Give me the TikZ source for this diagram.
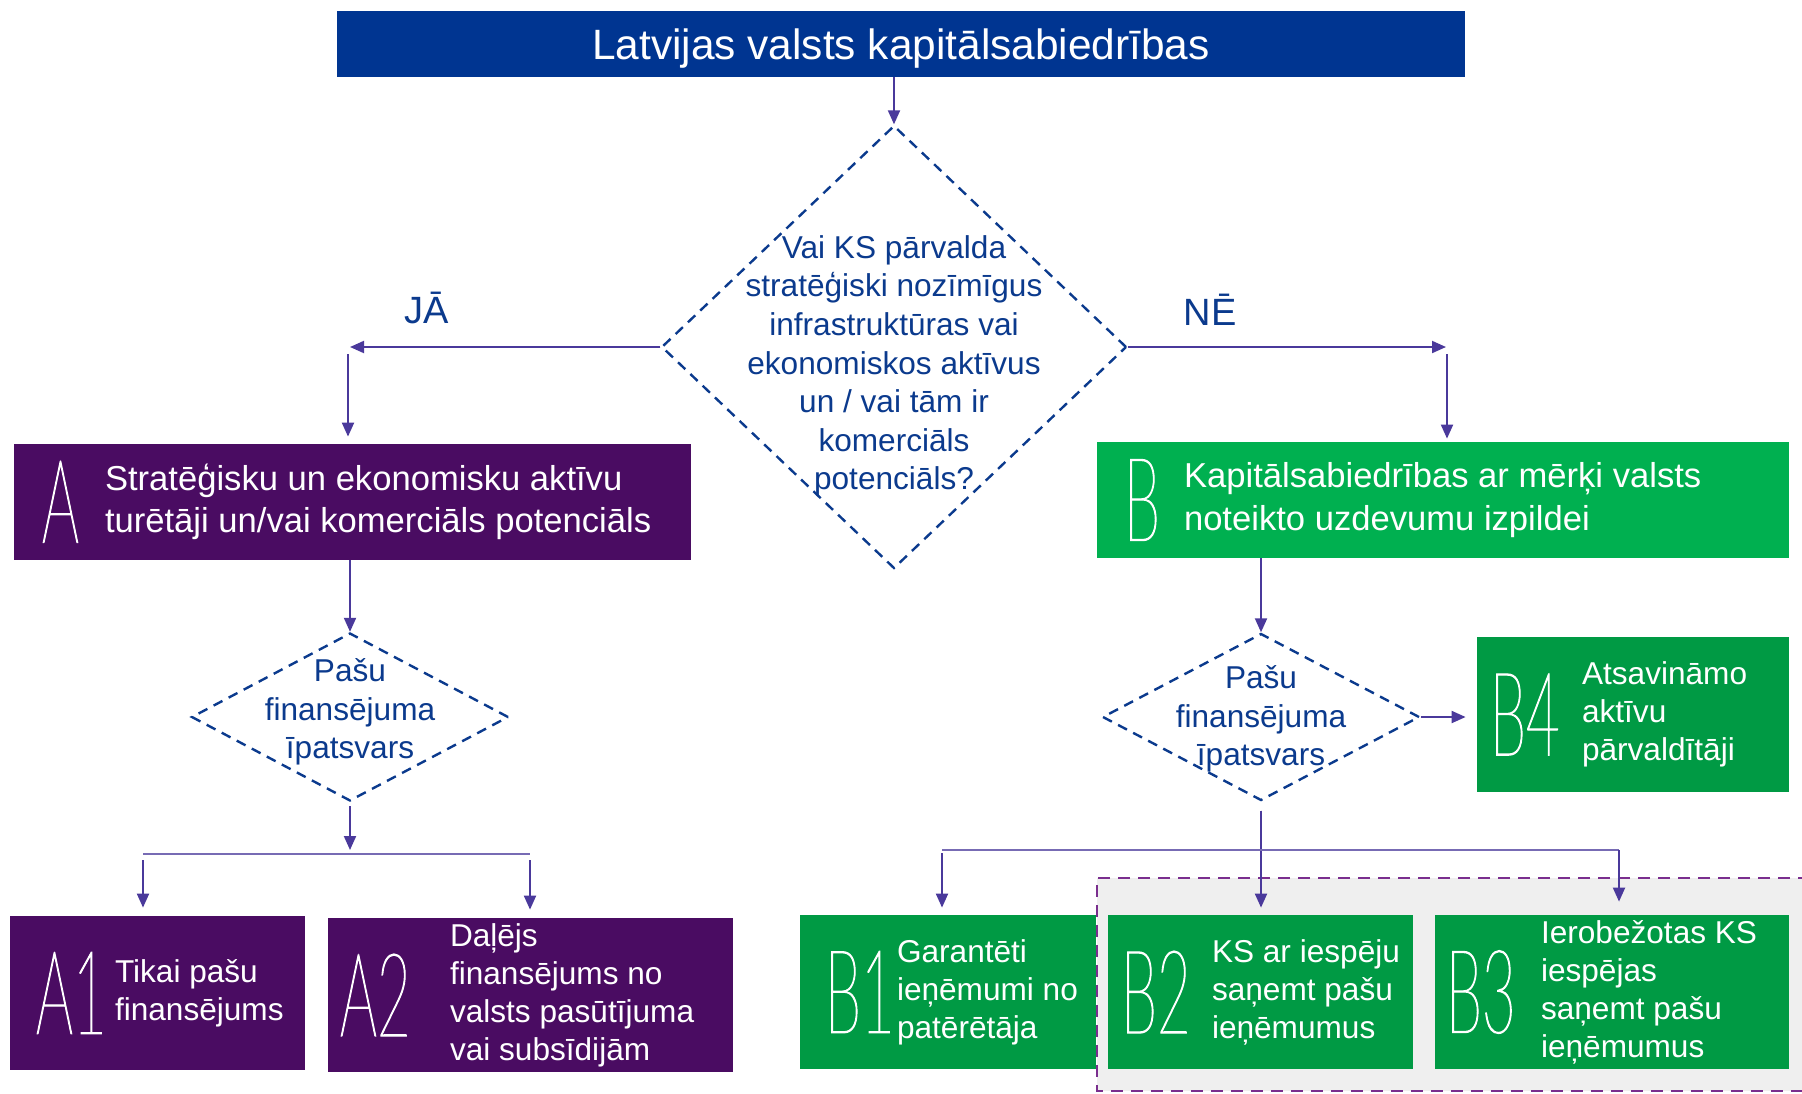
\documentclass[tikz,border=0pt]{standalone}
\usepackage{fontspec}
\setmainfont{Liberation Sans}
\newfontfamily\ltrfont{Lato Thin}[FakeStretch=0.5, FakeBold=1]
\usetikzlibrary{shapes.geometric,arrows.meta,positioning}

\definecolor{titleblue}{HTML}{003591}
\definecolor{qblue}{HTML}{0B3A8D}
\definecolor{arrowc}{HTML}{4A399B}
\definecolor{apurple}{HTML}{4A0C62}
\definecolor{bgreen}{HTML}{00B050}
\definecolor{subgreen}{HTML}{009A44}
\definecolor{zonegray}{HTML}{EFEFEF}
\definecolor{zonepurple}{HTML}{7A2E8E}

\begin{document}
\begin{tikzpicture}[x=0.5pt, y=-0.5pt, >={Triangle[length=7pt,width=6pt]},
    link/.style={->, draw=arrowc, fill=arrowc, line width=1pt},
    branch/.style={draw=arrowc!75, line width=0.6pt},
    decision/.style={diamond, draw=qblue, dash pattern=on 5pt off 3.5pt, line width=1.2pt, inner sep=0pt},
    qtext/.style={text=qblue, align=center, font=\fontsize{15.8}{19.3}\selectfont, inner sep=0pt},
    bigbox/.style={rectangle, inner sep=0pt, minimum height=58pt},
    subbox/.style={rectangle, fill=subgreen, inner sep=0pt, minimum height=77pt},
    bigltr/.style={text=white, font=\ltrfont\fontsize{58}{58}\selectfont, inner sep=0pt, anchor=west},
    boxtext/.style={text=white, align=left, font=\fontsize{17.3}{21.3}\selectfont, inner sep=0pt, anchor=west},
    subtext/.style={text=white, align=left, font=\fontsize{15.8}{19}\selectfont, inner sep=0pt, anchor=west}]

    \useasboundingbox (0,0) rectangle (1802,1093);

    % grey zone around B2 and B3
    \fill[zonegray] (1097,878) rectangle (1830,1091);
    \draw[zonepurple, line width=1.2pt, dash pattern=on 6pt off 4pt] (1830,878) -- (1097,878) -- (1097,1091) -- (1830,1091);

    % top
    \node[fill=titleblue, minimum width=564pt, minimum height=33pt, inner sep=0pt, text depth=0pt, text=white, font=\fontsize{21.2}{24}\selectfont] (title) at (901,44) {Latvijas valsts kapitālsabiedrības};

    \node[decision, minimum width=232.5pt, minimum height=221.5pt] (q) at (894,347) {};
    \node[qtext] (qt) at (894,366) {Vai KS pārvalda\\stratēģiski nozīmīgus\\infrastruktūras vai\\ekonomiskos aktīvus\\un / vai tām ir\\komerciāls\\potenciāls?};

    \node[text=qblue, font=\fontsize{19}{19}\selectfont] (ja) at (427,308) {JĀ};
    \node[text=qblue, font=\fontsize{19}{19}\selectfont] (ne) at (1210,310) {NĒ};

    % A side
    \node[bigbox, fill=apurple, minimum width=338.5pt] (A) at (352.5,502) {};
    \node[bigltr] (Altr) at ([xshift=14pt]A.west) {A};
    \node[boxtext] (Atxt) at ([xshift=45.5pt]A.west) {Stratēģisku un ekonomisku aktīvu\\turētāji un/vai komerciāls potenciāls};

    \node[decision, minimum width=158.5pt, minimum height=84pt] (ld) at (350,717) {};
    \node[qtext] (ldt) at (350,712) {Pašu\\finansējuma\\īpatsvars};

    \node[bigbox, fill=apurple, minimum width=147.5pt, minimum height=77pt] (A1) at (157.5,993) {};
    \node[bigltr] (A1ltr) at ([xshift=13pt]A1.west) {A1};
    \node[subtext] (A1txt) at ([xshift=52.5pt]A1.west) {Tikai pašu\\finansējums};

    \node[bigbox, fill=apurple, minimum width=202.5pt, minimum height=77pt] (A2) at (530.5,995) {};
    \node[bigltr] (A2ltr) at ([xshift=6pt]A2.west) {A2};
    \node[subtext] (A2txt) at ([xshift=61pt]A2.west) {Daļējs\\finansējums no\\valsts pasūtījuma\\vai subsīdijām};

    % B side
    \node[bigbox, fill=bgreen, minimum width=346pt] (B) at (1443,500) {};
    \node[bigltr] (Bltr) at ([xshift=13.5pt]B.west) {B};
    \node[boxtext] (Btxt) at ([xshift=43.5pt]B.west) {Kapitālsabiedrības ar mērķi valsts\\noteikto uzdevumu izpildei};

    \node[decision, minimum width=158.5pt, minimum height=83.5pt] (rd) at (1261,717) {};
    \node[qtext] (rdt) at (1261,719) {Pašu\\finansējuma\\īpatsvars};

    \node[subbox, minimum width=156pt, minimum height=77.5pt] (B4) at (1633,714.5) {};
    \node[bigltr] (B4ltr) at ([xshift=6.5pt]B4.west) {B4};
    \node[subtext] (B4txt) at ([xshift=52.5pt]B4.west) {Atsavināmo\\aktīvu\\pārvaldītāji};

    \node[subbox, minimum width=148pt] (B1) at (948,992) {};
    \node[bigltr] (B1ltr) at ([xshift=12.5pt]B1.west) {B1};
    \node[subtext] (B1txt) at ([xshift=48.5pt]B1.west) {Garantēti\\ieņēmumi no\\patērētāja};

    \node[subbox, minimum width=152.5pt] (B2) at (1260.5,992) {};
    \node[bigltr] (B2ltr) at ([xshift=6.5pt]B2.west) {B2};
    \node[subtext] (B2txt) at ([xshift=52pt]B2.west) {KS ar iespēju\\saņemt pašu\\ieņēmumus};

    \node[subbox, minimum width=177pt] (B3) at (1612,992) {};
    \node[bigltr] (B3ltr) at ([xshift=5.5pt]B3.west) {B3};
    \node[subtext] (B3txt) at ([xshift=53pt]B3.west) {Ierobežotas KS\\iespējas\\saņemt pašu\\ieņēmumus};

    % connectors
    \coordinate (jaend) at (350,347);
    \coordinate (jadown) at (348,354);
    \coordinate (neend) at (1446,347);
    \coordinate (nedown) at (1447,354);
    \coordinate (lbar) at (350,854);
    \coordinate (lbarL) at (143,854);
    \coordinate (lbarR) at (530,854);
    \coordinate (rbarL) at (942,850);
    \coordinate (rbarR) at (1619,850);

    \draw[link] (title.south -| q.north) -- (q.north);
    \draw[link] (q.west) -- (jaend);
    \draw[link, shorten >=3.5pt] (jadown) -- (jadown |- A.north);
    \draw[link] (q.east) -- (neend);
    \draw[link, shorten >=1.5pt] (nedown) -- (nedown |- B.north);

    \draw[link] (ld.north |- A.south) -- (ld.north);
    \draw[link, shorten <=2pt, shorten >=2pt] (ld.south) -- (lbar);
    \draw[branch] (lbarL) -- (lbarR);
    \draw[link, shorten <=3pt, shorten >=4pt] (lbarL) -- (lbarL |- A1.north);
    \draw[link, shorten <=3pt, shorten >=4pt] (lbarR) -- (lbarR |- A2.north);

    \draw[link] (rd.north |- B.south) -- (rd.north);
    \draw[link, shorten >=5.5pt] (rd.east) -- (rd.east -| B4.west);
    \draw[link, shorten <=4.5pt, shorten >=3.5pt] (rd.south) -- (rd.south |- B2.north);
    \draw[branch] (rbarL) -- (rbarR);
    \draw[link, shorten <=1.5pt, shorten >=3.5pt] (rbarL) -- (rbarL |- B1.north);
    \draw[link, shorten >=6.5pt] (rbarR) -- (rbarR |- B3.north);
\end{tikzpicture}
\end{document}
